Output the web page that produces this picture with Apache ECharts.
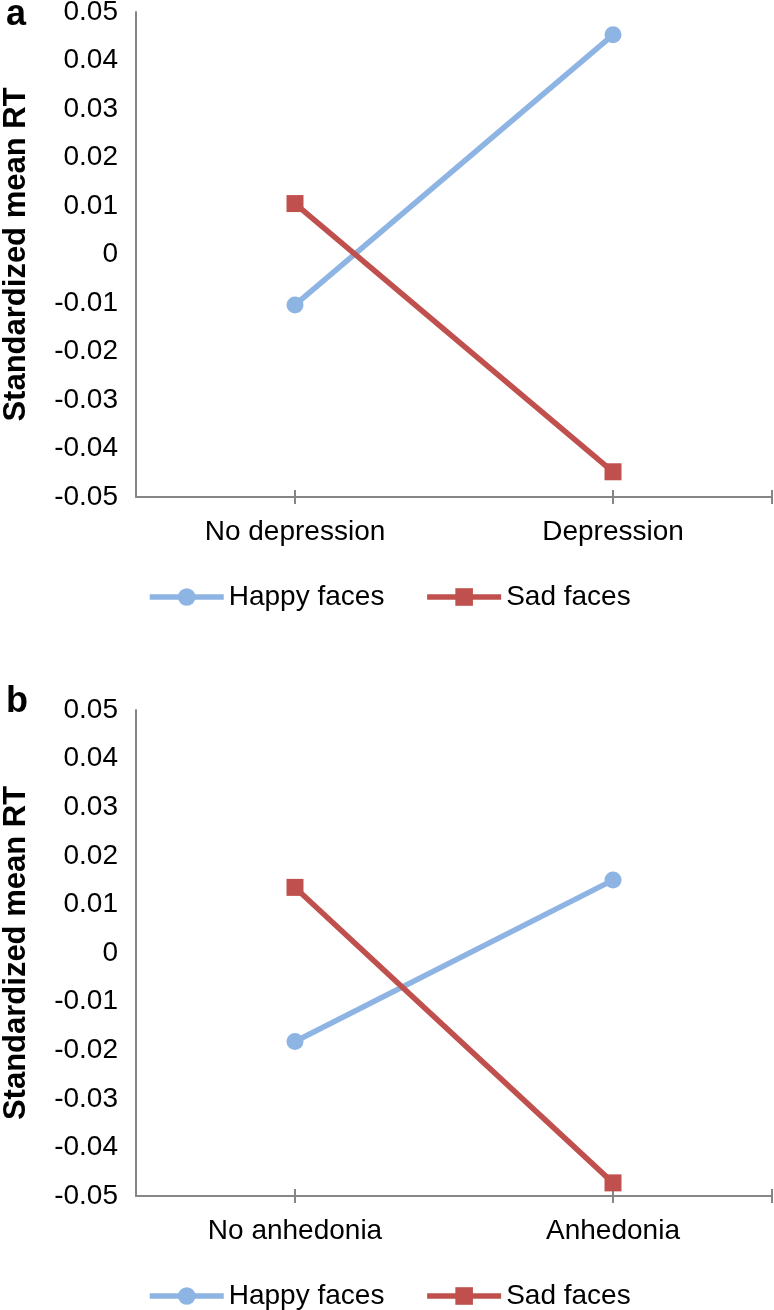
<!DOCTYPE html>
<html>
<head>
<meta charset="utf-8">
<script src="https://cdn.jsdelivr.net/npm/echarts@6/dist/echarts.min.js"></script>
<style>
  html, body { margin: 0; padding: 0; background: #fff; }
  #chart { width: 774px; height: 1310px; }
</style>
</head>
<body>
<div id="chart"></div>
<script>
// data
var categoriesA = ['No depression', 'Depression'];
var categoriesB = ['No anhedonia', 'Anhedonia'];
var happyA = [-0.0104, 0.0453];
var sadA = [0.0105, -0.0448];
var happyB = [-0.0182, 0.015];
var sadB = [0.0135, -0.0473];
var seriesNames = ['Happy faces', 'Sad faces'];
var yMin = -0.05, yMax = 0.05, yStep = 0.01;
var tickPos = [0.5, 1.5, 2]; // x tick marks (centres + right end)

var font = 'Liberation Sans, Arial, sans-serif';
var blue = '#8DB4E2', red = '#C0504D', axisGrey = '#868686';

var chart = echarts.init(document.getElementById('chart'));

function fmt(v) {
  var r = Math.round(v * 100) / 100;
  if (r === 0) return '0';
  return r.toFixed(2);
}

function yAxis(grid) {
  return {
    type: 'value', gridIndex: grid, min: yMin, max: yMax, interval: yStep,
    name: 'Standardized mean RT', nameLocation: 'middle', nameGap: 104,
    nameTextStyle: { fontFamily: font, fontWeight: 'bold', fontSize: 31, color: '#000' },
    axisLine: { show: true, lineStyle: { color: axisGrey, width: 2 } },
    axisTick: { show: false },
    splitLine: { show: false },
    axisLabel: { fontFamily: font, fontSize: 28, color: '#000', margin: 18, formatter: fmt }
  };
}

function catAxis(grid, cats) {
  return {
    type: 'category', gridIndex: grid, data: cats, boundaryGap: true,
    axisLine: { onZero: false, lineStyle: { color: axisGrey, width: 2 } },
    axisTick: { show: false },
    axisLabel: { fontFamily: font, fontSize: 28, color: '#000', margin: 21 }
  };
}

// helper axes only for the crossing tick marks
function tickAxis(grid, inside) {
  return {
    type: 'value', gridIndex: grid, min: 0, max: 2, position: 'bottom',
    axisLine: { show: false, onZero: false },
    axisLabel: { show: false },
    splitLine: { show: false },
    axisTick: { show: true, inside: inside, length: 7, customValues: tickPos,
      lineStyle: { color: axisGrey, width: 2 } }
  };
}

function lineSeries(name, data, xi, yi, color, symbol) {
  return {
    name: name, type: 'line', data: data, xAxisIndex: xi, yAxisIndex: yi,
    symbol: symbol, symbolSize: 17,
    lineStyle: { color: color, width: 5.5 },
    itemStyle: { color: color },
    z: symbol === 'rect' ? 3 : 2
  };
}

function legend(top) {
  return {
    data: seriesNames, left: 147, top: top, padding: 0,
    itemWidth: 74, itemHeight: 22, itemGap: 40,
    lineStyle: { width: 5.5 },
    textStyle: { fontFamily: font, fontSize: 28, color: '#000' },
    selectedMode: false
  };
}

var option = {
  animation: false,
  grid: [
    { left: 136, width: 636, top: 12, height: 485, outerBoundsMode: 'none' },
    { left: 136, width: 636, top: 710, height: 486, outerBoundsMode: 'none' }
  ],
  xAxis: [
    catAxis(0, categoriesA), catAxis(1, categoriesB),
    tickAxis(0, true), tickAxis(0, false), tickAxis(1, true), tickAxis(1, false)
  ],
  yAxis: [yAxis(0), yAxis(1)],
  legend: [legend(583), legend(1282)],
  series: [
    lineSeries(seriesNames[0], happyA, 0, 0, blue, 'circle'),
    lineSeries(seriesNames[1], sadA, 0, 0, red, 'rect'),
    lineSeries(seriesNames[0], happyB, 1, 1, blue, 'circle'),
    lineSeries(seriesNames[1], sadB, 1, 1, red, 'rect')
  ],
  graphic: [
    { type: 'text', x: 6, y: 33, style: { text: 'a', font: 'bold 36px ' + font, fill: '#000', verticalAlign: 'bottom' } },
    { type: 'text', x: 6, y: 720, style: { text: 'b', font: 'bold 36px ' + font, fill: '#000', verticalAlign: 'bottom' } }
  ]
};

chart.setOption(option);
</script>
</body>
</html>
